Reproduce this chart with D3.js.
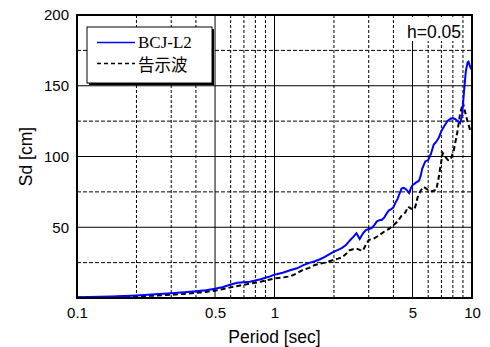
<!DOCTYPE html>
<html>
<head>
<meta charset="utf-8">
<script src="https://cdn.jsdelivr.net/npm/d3@7"></script>
<style>
    html, body { margin: 0; padding: 0; background: #fff; }
    svg { display: block; }
    .tick text { font-family: "Liberation Sans", Arial, sans-serif; font-size: 15px; fill: #000; }
</style>
</head>
<body>
<div id="chart"></div>
<script>
// ——— Data ———
const periodsL2 = [0.1, 0.15, 0.2, 0.25, 0.3, 0.35, 0.4, 0.45, 0.5, 0.55, 0.6, 0.65, 0.7, 0.75, 0.8, 0.85, 0.9, 0.95,
    1.0, 1.1, 1.2, 1.3, 1.4, 1.5, 1.6, 1.7, 1.8, 1.9, 2.0, 2.1, 2.2, 2.3, 2.4, 2.5, 2.6, 2.7, 2.8, 2.9,
    3.0, 3.1, 3.2, 3.3, 3.4, 3.5, 3.6, 3.7, 3.8, 3.9, 4.0, 4.1, 4.2, 4.3, 4.4, 4.5, 4.6, 4.7, 4.8, 4.9,
    5.0, 5.2, 5.4, 5.5, 5.6, 5.8, 6.0, 6.2, 6.4, 6.6, 6.8, 7.0, 7.2, 7.5, 7.8, 8.0, 8.2, 8.4, 8.7, 8.9,
    9.1, 9.3, 9.5, 9.6, 9.75, 9.9, 10.0];
const sdL2 = [0.5, 1.1, 1.8, 2.6, 3.3, 4.0, 4.7, 5.5, 6.5, 7.8, 9.5, 10.8, 11.2, 11.5, 12.4, 13.3, 14.3, 15.3,
    16.5, 17.8, 19.6, 21.0, 23.2, 24.8, 26.0, 27.4, 29.0, 31.0, 32.8, 34.0, 35.4, 37.4, 40.5, 43.0, 45.8, 41.7, 45.5, 48.0,
    48.8, 49.4, 51.5, 54.2, 55.0, 55.3, 57.0, 59.8, 62.0, 62.8, 64.0, 67.5, 70.0, 74.0, 77.3, 77.8, 77.2, 75.8, 74.2, 77.5,
    79.8, 81.5, 83.0, 86.5, 91.5, 96.5, 97.5, 102.0, 108.5, 110.5, 113.5, 118.0, 121.0, 125.0, 126.8, 127.0, 126.5, 125.5, 123.5, 128.5,
    145.0, 160.0, 166.5, 167.0, 164.0, 162.0, 161.5];

const periodsKokuji = [0.1, 0.15, 0.2, 0.25, 0.3, 0.35, 0.4, 0.45, 0.5, 0.55, 0.6, 0.65, 0.7, 0.75, 0.8, 0.85, 0.9, 0.95,
    1.0, 1.1, 1.2, 1.3, 1.4, 1.5, 1.6, 1.7, 1.8, 1.9, 2.0, 2.1, 2.2, 2.3, 2.4, 2.5, 2.6, 2.7, 2.8, 2.9,
    3.0, 3.2, 3.4, 3.6, 3.8, 4.0, 4.2, 4.4, 4.6, 4.75, 4.9, 5.1, 5.2, 5.3, 5.5, 5.7, 5.9, 6.1, 6.3, 6.6, 6.8,
    7.0, 7.1, 7.3, 7.55, 7.8, 8.1, 8.4, 8.7, 9.0, 9.3, 9.55, 9.8, 10.0];
const sdKokuji = [0.3, 0.7, 1.2, 1.7, 2.3, 2.9, 3.6, 4.3, 5.2, 6.3, 7.5, 8.5, 9.4, 10.2, 10.8, 11.5, 12.3, 13.1,
    13.8, 14.5, 15.3, 17.5, 20.0, 21.3, 23.3, 24.3, 25.0, 26.0, 27.0, 27.8, 28.8, 31.0, 33.8, 34.5, 35.0, 34.0, 33.4, 37.5,
    41.0, 42.2, 44.5, 47.0, 48.8, 51.5, 54.0, 58.2, 60.5, 64.5, 63.2, 62.5, 66.0, 71.0, 76.0, 78.5, 77.0, 75.5, 75.5, 76.5, 86.0,
    97.0, 102.5, 100.0, 97.5, 97.8, 105.0, 116.0, 130.0, 138.0, 129.5, 123.5, 118.5, 117.5];

const xTickLabels = [0.1, 0.5, 1, 5, 10];
const xMajorGrid = [0.5, 1, 5];
const yTickLabels = [50, 100, 150, 200];
const yMajorGrid = [50, 100, 150];
const yMinorGrid = [25, 75, 125, 175];

(() => {
    const W = 490, H = 347;
    const m = { left: 77, top: 15, right: 18, bottom: 49 };
    const w = W - m.left - m.right;
    const h = H - m.top - m.bottom;
    const sans = '"Liberation Sans", Arial, sans-serif';

    const svg = d3.select('#chart').append('svg')
        .attr('width', W).attr('height', H);

    const x = d3.scaleLog().domain([0.1, 10]).range([0, w]);
    const y = d3.scaleLinear().domain([0, 200]).range([h, 0]);

    const g = svg.append('g').attr('transform', `translate(${m.left},${m.top})`);

    // ——— Grid ———
    const xMinor = x.ticks().filter(t => !xTickLabels.some(v => Math.abs(v - t) < 1e-9));
    g.append('g').selectAll('line').data(xMinor).join('line')
        .attr('x1', d => x(d)).attr('x2', d => x(d))
        .attr('y1', 0).attr('y2', h)
        .attr('stroke', '#000').attr('stroke-width', 1).attr('stroke-dasharray', '3,2');
    g.append('g').selectAll('line').data(yMinorGrid).join('line')
        .attr('x1', 0).attr('x2', w)
        .attr('y1', d => y(d)).attr('y2', d => y(d))
        .attr('stroke', '#000').attr('stroke-width', 1).attr('stroke-dasharray', '4,2');
    g.append('g').selectAll('line').data(xMajorGrid).join('line')
        .attr('x1', d => x(d)).attr('x2', d => x(d))
        .attr('y1', 0).attr('y2', h)
        .attr('stroke', '#000').attr('stroke-width', 1);
    g.append('g').selectAll('line').data(yMajorGrid).join('line')
        .attr('x1', 0).attr('x2', w)
        .attr('y1', d => y(d)).attr('y2', d => y(d))
        .attr('stroke', '#000').attr('stroke-width', 1);

    // ——— Curves ———
    g.append('clipPath').attr('id', 'plotClip')
        .append('rect').attr('width', w).attr('height', h);

    const line = d3.line().x(d => x(d[0])).y(d => y(d[1]));
    const curves = g.append('g').attr('clip-path', 'url(#plotClip)');

    curves.append('path')
        .datum(d3.zip(periodsKokuji, sdKokuji))
        .attr('d', line)
        .attr('fill', 'none').attr('stroke', '#000').attr('stroke-width', 2)
        .attr('stroke-dasharray', '5,3');
    curves.append('path')
        .datum(d3.zip(periodsL2, sdL2))
        .attr('d', line)
        .attr('fill', 'none').attr('stroke', '#0000ff').attr('stroke-width', 2);

    // ——— h=0.05 label ———
    g.append('rect')
        .attr('x', w - 70).attr('y', 2).attr('width', 59).attr('height', 24)
        .attr('fill', '#fff');
    g.append('text')
        .attr('x', w - 11).attr('y', 22.5)
        .attr('text-anchor', 'end')
        .attr('font-family', sans)
        .attr('font-size', '17.5px')
        .text('h=0.05');

    // ——— Frame ———
    g.append('rect')
        .attr('width', w).attr('height', h)
        .attr('fill', 'none').attr('stroke', '#000').attr('stroke-width', 2);

    // ——— Axes ———
    const xAxis = g.append('g')
        .attr('transform', `translate(0,${h})`)
        .call(d3.axisBottom(x).tickValues(xTickLabels).tickSize(0).tickPadding(9).tickFormat(d3.format('')));
    xAxis.select('.domain').remove();

    const yAxis = g.append('g')
        .call(d3.axisLeft(y).tickValues(yTickLabels).tickSize(0).tickPadding(8));
    yAxis.select('.domain').remove();

    svg.append('text')
        .attr('x', m.left + w / 2).attr('y', 343)
        .attr('text-anchor', 'middle')
        .attr('font-family', sans)
        .attr('font-size', '17.5px')
        .text('Period [sec]');

    svg.append('text')
        .attr('transform', `translate(32,${m.top + h / 2}) rotate(-90)`)
        .attr('text-anchor', 'middle')
        .attr('font-family', sans)
        .attr('font-size', '17.5px')
        .text('Sd [cm]');

    // ——— Legend ———
    const lg = svg.append('g').attr('transform', 'translate(87,27)');
    lg.append('rect').attr('x', 2).attr('y', 2).attr('width', 125).attr('height', 56).attr('fill', '#000');
    lg.append('rect').attr('width', 125).attr('height', 56)
        .attr('fill', '#fff').attr('stroke', '#000').attr('stroke-width', 1);

    lg.append('line').attr('x1', 10).attr('x2', 48).attr('y1', 15.5).attr('y2', 15.5)
        .attr('stroke', '#0000ff').attr('stroke-width', 1.5);
    lg.append('text').attr('x', 51).attr('y', 21)
        .attr('font-family', '"Liberation Serif", "Times New Roman", serif')
        .attr('font-size', '17px')
        .text('BCJ-L2');

    lg.append('line').attr('x1', 10).attr('x2', 48).attr('y1', 36.5).attr('y2', 36.5)
        .attr('stroke', '#000').attr('stroke-width', 1.5).attr('stroke-dasharray', '4,3');
    lg.append('text').attr('x', 51).attr('y', 43.5)
        .attr('font-family', '"Noto Sans CJK JP", sans-serif')
        .attr('font-size', '16.5px')
        .text('告示波');
})();
</script>
</body>
</html>
